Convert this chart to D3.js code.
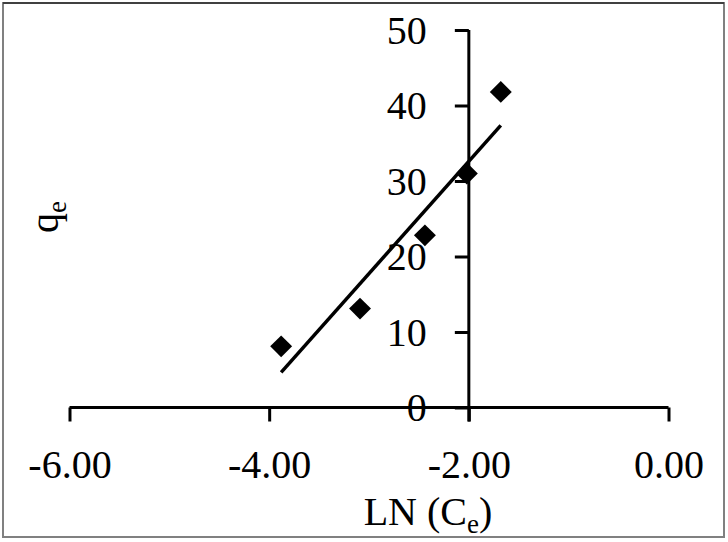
<!DOCTYPE html>
<html>
<head>
<meta charset="utf-8">
<script src="https://cdn.jsdelivr.net/npm/d3@7"></script>
<style>
  html, body { margin: 0; padding: 0; background: #fff; }
  svg { display: block; }
  text { font-family: "Liberation Serif", "Times New Roman", serif; fill: #000; }
</style>
</head>
<body>
<svg id="chart" width="728" height="542"></svg>
<script>
// ---- data ----
const lnCe = [-3.88, -3.09, -2.44, -2.02, -1.68];
const qe   = [8.1, 13.1, 22.8, 31.0, 41.8];
const xTicks = [-6, -4, -2, 0];
const xTickLabels = ["-6.00", "-4.00", "-2.00", "0.00"];
const yTicks = [0, 10, 20, 30, 40, 50];
const xDomain = [-6, 0];
const yDomain = [0, 50];
const xCross = -2;   // y axis crosses x axis here

const svg = d3.select("#chart");

// border
svg.append("rect").attr("x", 3).attr("y", 3).attr("width", 721).attr("height", 534)
  .attr("fill", "#fff").attr("stroke", "#808080").attr("stroke-width", 2);
svg.append("line").attr("x1", 3).attr("x2", 724).attr("y1", 3).attr("y2", 3)
  .attr("stroke", "#000").attr("stroke-width", 1);

const x = d3.scaleLinear().domain(xDomain).range([69.5, 668.5]);
const y = d3.scaleLinear().domain(yDomain).range([407.5, 30]);

// x axis
const xAxis = d3.axisBottom(x).tickValues(xTicks).tickSize(14).tickSizeOuter(0)
  .tickFormat((d, i) => xTickLabels[i]);
const gx = svg.append("g").attr("transform", `translate(0,${y(0)})`).call(xAxis);
gx.select(".domain").attr("stroke", "#000").attr("stroke-width", 3)
  .attr("d", `M${x(xDomain[0])},0H${x(xDomain[1])}`);
gx.selectAll(".tick line").attr("stroke", "#000").attr("stroke-width", 3);
gx.selectAll(".tick text").attr("font-size", 40).attr("y", 0).attr("dy", 0)
  .attr("transform", "translate(0,70)")
  .style("font-family", "'Liberation Serif', serif");

// y axis
const yAxis = d3.axisLeft(y).tickValues(yTicks).tickSize(14).tickSizeOuter(0).tickPadding(28);
const gy = svg.append("g").attr("transform", `translate(${x(xCross)},0)`).call(yAxis);
gy.select(".domain").attr("stroke", "#000").attr("stroke-width", 3)
  .attr("d", `M0,${y(yDomain[1])}V${y(yDomain[0]) + 14}`);
gy.selectAll(".tick line").attr("stroke", "#000").attr("stroke-width", 3);
gy.selectAll(".tick text").attr("font-size", 40).attr("dy", "0.33em")
  .style("font-family", "'Liberation Serif', serif");

// trendline (least squares from data)
const n = lnCe.length;
const mx = d3.mean(lnCe), my = d3.mean(qe);
let sxy = 0, sxx = 0;
for (let i = 0; i < n; i++) { sxy += (lnCe[i] - mx) * (qe[i] - my); sxx += (lnCe[i] - mx) ** 2; }
const slope = sxy / sxx, intercept = my - slope * mx;
const x0 = d3.min(lnCe), x1 = d3.max(lnCe);
svg.append("line")
  .attr("x1", x(x0)).attr("y1", y(intercept + slope * x0))
  .attr("x2", x(x1)).attr("y2", y(intercept + slope * x1))
  .attr("stroke", "#000").attr("stroke-width", 3.5);

// points (diamonds)
const sym = d3.symbol().type(d3.symbolSquare).size(240);
svg.append("g").selectAll("path").data(lnCe.map((v, i) => [v, qe[i]])).join("path")
  .attr("d", sym)
  .attr("transform", d => `translate(${x(d[0])},${y(d[1])}) rotate(45)`)
  .attr("fill", "#000");

// axis titles
const xt = svg.append("text").attr("x", 428).attr("y", 525).attr("text-anchor", "middle")
  .attr("font-size", 40);
xt.append("tspan").text("LN (C");
xt.append("tspan").attr("font-size", 27).attr("dy", 8).text("e");
xt.append("tspan").attr("dy", -8).text(")");

const yt = svg.append("text").attr("transform", "translate(58,217) rotate(-90)")
  .attr("text-anchor", "middle").attr("font-size", 40);
yt.append("tspan").text("q");
yt.append("tspan").attr("font-size", 27).attr("dy", 8).text("e");
</script>
</body>
</html>
